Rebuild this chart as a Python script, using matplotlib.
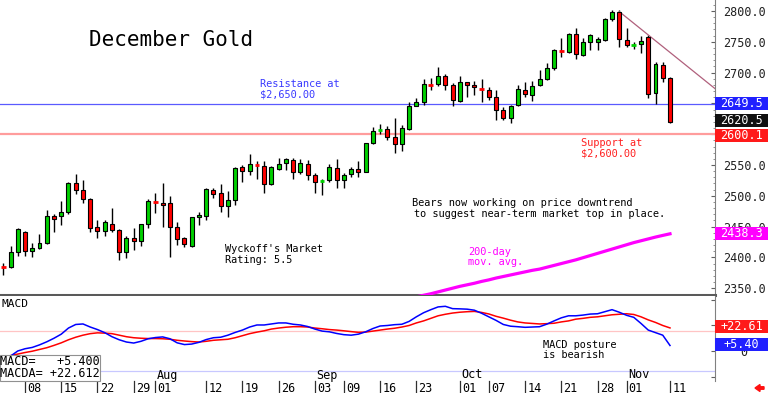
import numpy as np
import pandas as pd
import matplotlib
matplotlib.use('Agg')
import matplotlib.pyplot as plt
from matplotlib.patches import Rectangle, FancyArrow
from matplotlib.transforms import blended_transform_factory

# ---------------- data ----------------
dates = pd.bdate_range('2024-07-02', '2024-11-11')
dates = dates.drop(pd.to_datetime(['2024-07-04', '2024-09-02']))

opens = [2385, 2384, 2408,
         2442, 2411, 2416, 2423, 2467, 2467, 2473, 2521, 2509, 2495,
         2449, 2443, 2455, 2445, 2408, 2432, 2427, 2454, 2491, 2489,
         2489, 2450, 2431, 2419, 2465, 2468, 2509, 2504, 2484, 2493,
         2547, 2541, 2550, 2548, 2519, 2543, 2553, 2558, 2538, 2551,
         2534, 2524, 2525, 2545, 2526, 2535, 2544, 2539, 2586, 2607,
         2608, 2595, 2584, 2608, 2646, 2653, 2681, 2681, 2695, 2680,
         2654, 2684, 2680, 2674, 2671, 2661, 2640, 2626, 2647, 2672,
         2664, 2680, 2690, 2707, 2736, 2734, 2762, 2729, 2749, 2749,
         2753, 2787, 2799, 2753, 2745, 2746, 2758, 2667, 2712, 2692]
highs = [2391, 2418, 2447,
         2443, 2423, 2438, 2477, 2470, 2492, 2522, 2536, 2526, 2496,
         2460, 2460, 2480, 2446, 2434, 2447, 2455, 2494, 2505, 2521,
         2499, 2458, 2433, 2466, 2474, 2512, 2512, 2519, 2507, 2546,
         2550, 2568, 2557, 2557, 2548, 2561, 2561, 2562, 2559, 2558,
         2537, 2528, 2552, 2559, 2537, 2546, 2557, 2586, 2612, 2617,
         2613, 2626, 2615, 2653, 2658, 2689, 2691, 2709, 2698, 2683,
         2695, 2685, 2687, 2689, 2676, 2672, 2644, 2647, 2680, 2685,
         2687, 2704, 2716, 2738, 2756, 2764, 2772, 2756, 2763, 2757,
         2788, 2802, 2801, 2772, 2749, 2759, 2761, 2718, 2718, 2693]
lows = [2371, 2382, 2402,
        2402, 2401, 2414, 2422, 2442, 2453, 2471, 2503, 2489, 2442,
        2431, 2435, 2442, 2396, 2399, 2412, 2419, 2447, 2472, 2450,
        2401, 2420, 2417, 2417, 2453, 2461, 2496, 2474, 2466, 2485,
        2522, 2533, 2527, 2504, 2518, 2542, 2542, 2527, 2535, 2526,
        2505, 2501, 2523, 2512, 2512, 2531, 2531, 2538, 2584, 2601,
        2591, 2570, 2573, 2607, 2645, 2647, 2672, 2678, 2671, 2645,
        2653, 2661, 2664, 2653, 2656, 2623, 2623, 2618, 2646, 2661,
        2654, 2678, 2688, 2705, 2725, 2732, 2722, 2727, 2737, 2737,
        2752, 2783, 2741, 2742, 2738, 2732, 2658, 2649, 2685, 2618]
closes = [2384, 2409, 2446,
          2411, 2416, 2423, 2467, 2463, 2474, 2521, 2510, 2495, 2448,
          2443, 2457, 2445, 2408, 2431, 2427, 2454, 2492, 2490, 2485,
          2450, 2430, 2422, 2465, 2469, 2511, 2503, 2484, 2493, 2545,
          2541, 2551, 2549, 2519, 2547, 2552, 2559, 2538, 2553, 2534,
          2523, 2525, 2546, 2525, 2534, 2544, 2538, 2585, 2605, 2608,
          2596, 2584, 2610, 2646, 2653, 2681, 2680, 2695, 2680, 2656,
          2684, 2680, 2677, 2673, 2661, 2640, 2626, 2646, 2673, 2666,
          2678, 2689, 2707, 2737, 2735, 2763, 2730, 2749, 2761, 2754,
          2787, 2799, 2754, 2745, 2746, 2752, 2666, 2714, 2692, 2620.5]

macd = [-7, -5, 0,
        2.2, 3.5, 6, 9, 12.5, 16.5, 22.5, 26, 26.5, 23.5,
        21, 18, 14, 11, 8.8, 7.8, 9.5, 12, 13.2, 13.8,
        12, 8, 6.3, 6.8, 8.5, 11.2, 13, 13.5, 15.5, 18.2,
        20.5, 23.5, 25.5, 25.5, 26.5, 27.5, 27.5, 26.2, 25.5, 24,
        21.5, 19.5, 18.8, 17.2, 16, 15.5, 16.5, 18.8, 22, 24.5,
        25, 25.8, 26.2, 29, 33.5, 37.5, 40.5, 43.2, 43.8, 41.5,
        41.3, 41, 40, 37, 33.5, 30, 26, 24.3, 23.8, 23.2,
        23.5, 23.8, 26.3, 29.5, 32.5, 34.5, 34.5, 35.2, 36.2, 36.5,
        38.5, 40.5, 38, 35, 33, 27, 20.5, 18, 15.5, 5.4]
signal = [-7, -4.5, -3,
          -1.5, -0.2, 1.5, 3.2, 5.5, 8, 11, 13.5, 15.5, 17,
          17.8, 17.5, 17, 15.5, 14, 13, 12.5, 12.2, 12.2, 12,
          11.5, 10.5, 9.8, 9.2, 8.8, 9.5, 10.5, 11, 11.5, 13,
          15, 17, 18.5, 19.8, 21.5, 22.5, 23.3, 23.8, 23.8, 23.5,
          22.5, 21.8, 21, 20.5, 19.8, 19, 18.3, 18.5, 19.5, 20.5,
          21.5, 22.3, 23.5, 25, 27.5, 29.5, 32, 34.5, 36, 37.2,
          38, 38.5, 38.8, 37.8, 36.3, 34, 32.2, 30.2, 28.5, 27.5,
          27, 26.5, 26.8, 27.2, 28.5, 29.5, 31.2, 32, 33, 33.5,
          34.5, 35.5, 36, 36.5, 35.8, 33.5, 30.5, 28, 25, 22.612]

# 200-day moving average, last 36 sessions (the earlier part is below the panel)
ma200 = [2336, 2338.5, 2341, 2344, 2347, 2350, 2353, 2355.5, 2358, 2361,
         2363.5, 2366.5, 2369, 2371.5, 2374, 2376.5, 2379, 2381, 2384, 2387,
         2390, 2393, 2396, 2399.5, 2403, 2406.5, 2410, 2413.5, 2417, 2420.5,
         2424, 2427, 2430, 2433, 2435.7, 2438.3]

resistance = 2649.5
support = 2600.1
last_price = 2620.5
# down-trend line: from the Oct 31 high to the right edge of the chart
trend_start_date = '2024-10-31'
trend_vals = [2799, 2674]

tick_dates = ['2024-07-08', '2024-07-15', '2024-07-22', '2024-07-29', '2024-08-01',
              '2024-08-12', '2024-08-19', '2024-08-26', '2024-09-03', '2024-09-09',
              '2024-09-16', '2024-09-23', '2024-10-01', '2024-10-07', '2024-10-14',
              '2024-10-21', '2024-10-28', '2024-11-01', '2024-11-11']
tick_labels = ['08', '15', '22', '29', '01', '12', '19', '26', '03', '09', '16',
               '23', '01', '07', '14', '21', '28', '01', '11']
month_dates = ['2024-08-01', '2024-09-03', '2024-10-01', '2024-11-01']
month_labels = ['Aug', 'Sep', 'Oct', 'Nov']

price_ticks = [2350, 2400, 2450, 2500, 2550, 2600, 2650, 2700, 2750, 2800]
hidden_price_labels = [2600, 2650]   # covered by the value boxes in the original

# ---------------- figure ----------------
MONO = 'DejaVu Sans Mono'
plt.rcParams['font.family'] = [MONO]
W, H = 768, 393
fig = plt.figure(figsize=(W / 100, H / 100), dpi=100)
fig.patch.set_facecolor('white')


def fy(py):
    return 1 - py / H


n = len(dates)
assert len(opens) == len(highs) == len(lows) == len(closes) == len(macd) == len(signal) == n
x = np.arange(n)
XL = (-0.45, 98.21)

ax = fig.add_axes([0, fy(295), 715 / W, 295 / H])
ax2 = fig.add_axes([0, fy(381), 715 / W, 85 / H])

ax.set_xlim(*XL)
ax.set_ylim(2338.96, 2817.86)
ax2.set_xlim(*XL)
ax2.set_ylim(-29.4, 53.9)

# candles
GREEN = '#00d000'
RED = '#ff0000'
bw = 0.55
for xi, o, h, l, c in zip(x, opens, highs, lows, closes):
    col = GREEN if c >= o else RED
    ax.vlines(xi, l, h, color='black', lw=1.0, zorder=3)
    if abs(c - o) <= 1.0:
        ax.hlines((o + c) / 2, xi - bw / 2 - 0.05, xi + bw / 2 + 0.05, color=col, lw=2.0, zorder=4)
    else:
        ax.add_patch(Rectangle((xi - bw / 2, min(o, c)), bw, abs(c - o), facecolor=col,
                               edgecolor='black', lw=0.8, zorder=4))

# support / resistance
ax.axhline(resistance, color='#5a5aff', lw=0.9, zorder=2)
ax.axhline(support, color='#ff9c9c', lw=1.6, zorder=2)

# 200-day MA
ax.plot(x[-len(ma200):], ma200, color='#ff00ff', lw=2.3, zorder=3)

# trend line
ts = dates.get_loc(pd.Timestamp(trend_start_date))
ax.plot([ts, XL[1]], trend_vals, color='#b0607c', lw=0.9, zorder=3)

# axes styling main
for s in ['top', 'left']:
    ax.spines[s].set_visible(False)
ax.spines['right'].set_color('#808080')
ax.spines['right'].set_linewidth(0.8)
ax.spines['bottom'].set_color('#5a5a5a')
ax.spines['bottom'].set_linewidth(2.2)
ax.set_xticks([])
ax.yaxis.tick_right()
ax.set_yticks(price_ticks)
ax.set_yticklabels(['' if v in hidden_price_labels else f'{v:.1f}' for v in price_ticks])
ax.set_yticks(np.arange(2340, 2820, 10), minor=True)
ax.tick_params(axis='y', which='major', direction='in', length=3, pad=6,
               labelsize=8.5, labelcolor='#202020', color='#606060')
ax.tick_params(axis='y', which='minor', direction='in', length=1.5, color='#808080')

# right label boxes
bt = blended_transform_factory(fig.transFigure, ax.transData)
bt2 = blended_transform_factory(fig.transFigure, ax2.transData)


def rbox(axis, trans, val, text, fc, hpx=13, unit=1.0, yc=None):
    hh = hpx * unit
    yc = val if yc is None else yc
    axis.add_patch(Rectangle((715 / W, yc - hh / 2), 53 / W, hh, transform=trans,
                             facecolor=fc, edgecolor='none', clip_on=False, zorder=10))
    axis.text(741.5 / W, yc, text, transform=trans, color='white', ha='center', va='center',
              fontsize=8.5, clip_on=False, zorder=11)


pu = (2817.86 - 2338.96) / 295
rbox(ax, bt, resistance, f'{resistance:.1f}', '#2020ff', unit=pu)
rbox(ax, bt, last_price, f'{last_price:.1f}', '#101010', unit=pu, yc=last_price + 1)
rbox(ax, bt, support, f'{support:.1f}', '#ff1a1a', unit=pu, yc=support - 2)
rbox(ax, bt, ma200[-1], f'{ma200[-1]:.1f}', '#ff00ff', unit=pu)

# texts main
ax_txt = dict(transform=fig.transFigure, va='center', ha='left', parse_math=False)
fig.text(89 / W, fy(40), 'December Gold', fontsize=15, color='black', **ax_txt)
fig.text(260 / W, fy(89.5), 'Resistance at\n$2,650.00', fontsize=7.4, color='#3a3aff',
         linespacing=1.05, **ax_txt)
fig.text(581 / W, fy(148), 'Support at\n$2,600.00', fontsize=7.4, color='#ff2020',
         linespacing=1.05, **ax_txt)
fig.text(412 / W, fy(203.5), 'Bears now working on price downtrend',
         fontsize=7.4, color='black', **ax_txt)
fig.text(414.5 / W, fy(214), 'to suggest near-term market top in place.',
         fontsize=7.4, color='black', **ax_txt)
fig.text(225 / W, fy(254.5), "Wyckoff's Market\nRating: 5.5", fontsize=7.4, color='black',
         linespacing=1.05, **ax_txt)
fig.text(468 / W, fy(257), '200-day\nmov. avg.', fontsize=7.4, color='#ff00ff',
         linespacing=1.05, **ax_txt)

# ---------------- MACD panel ----------------
ax2.axhline(20, color='#ffc4c4', lw=0.9, zorder=1)
ax2.axhline(-20, color='#c8c8ff', lw=0.9, zorder=1)
ax2.plot(x, signal, color='#ff0000', lw=1.1, zorder=3)
ax2.plot(x, macd, color='#0000ff', lw=1.1, zorder=3)
for s in ['top', 'left', 'bottom']:
    ax2.spines[s].set_visible(False)
ax2.spines['right'].set_color('#808080')
ax2.spines['right'].set_linewidth(0.8)
ax2.set_xticks([])
ax2.yaxis.tick_right()
ax2.set_yticks([-25, 0, 25, 50])
ax2.set_yticklabels(['', '0', '25', ''])
ax2.tick_params(axis='y', direction='in', length=3, pad=18, labelsize=8.5,
                labelcolor='#202020', color='#606060')
mu = (53.9 + 29.4) / 85
rbox(ax2, bt2, signal[-1], f'+{signal[-1]:.2f}', '#ff1a1a', unit=mu, yc=signal[-1] + 1.0)
rbox(ax2, bt2, macd[-1], f'+{macd[-1]:.2f}', '#2020ff', unit=mu, yc=macd[-1] + 1.0)

fig.text(2 / W, fy(304), 'MACD', fontsize=8, color='black', **ax_txt)
fig.text(543 / W, fy(350), 'MACD posture\nis bearish', fontsize=7.4, color='black',
         linespacing=1.05, **ax_txt)

# value box lower-left
fig.patches.append(Rectangle((0, fy(381)), 100 / W, 26 / H, transform=fig.transFigure,
                             facecolor='white', edgecolor='#909090', lw=0.8, zorder=5))
fig.text(0.5 / W, fy(361.5), f'MACD=   {macd[-1]:+.3f}', fontsize=8.5, color='black',
         zorder=6, **ax_txt)
fig.text(0.5 / W, fy(373.5), f'MACDA= {signal[-1]:+.3f}', fontsize=8.5, color='black',
         zorder=6, **ax_txt)

# date axis
xt = blended_transform_factory(ax2.transData, fig.transFigure)
for d, lab in zip(tick_dates, tick_labels):
    p = dates.get_loc(pd.Timestamp(d))
    ax2.plot([p, p], [fy(381), fy(393)], transform=xt, color='#303030', lw=0.9,
             clip_on=False)
    ax2.text(p + 0.3, fy(388), lab, transform=xt, fontsize=8.5, ha='left', va='center',
             color='black', clip_on=False)
for d, lab in zip(month_dates, month_labels):
    p = dates.get_loc(pd.Timestamp(d))
    ax2.text(p + 0.2, fy(375), lab, transform=xt, fontsize=8.5, ha='left', va='center',
             color='black', clip_on=False)

# little red arrow bottom right
fig.patches.append(FancyArrow(764 / W, fy(388), -9 / W, 0, width=2.5 / H, head_width=7 / H,
                              head_length=5 / W, length_includes_head=True,
                              transform=fig.transFigure, color='#ff1010'))

fig.savefig('out.png', dpi=100, facecolor='white')
